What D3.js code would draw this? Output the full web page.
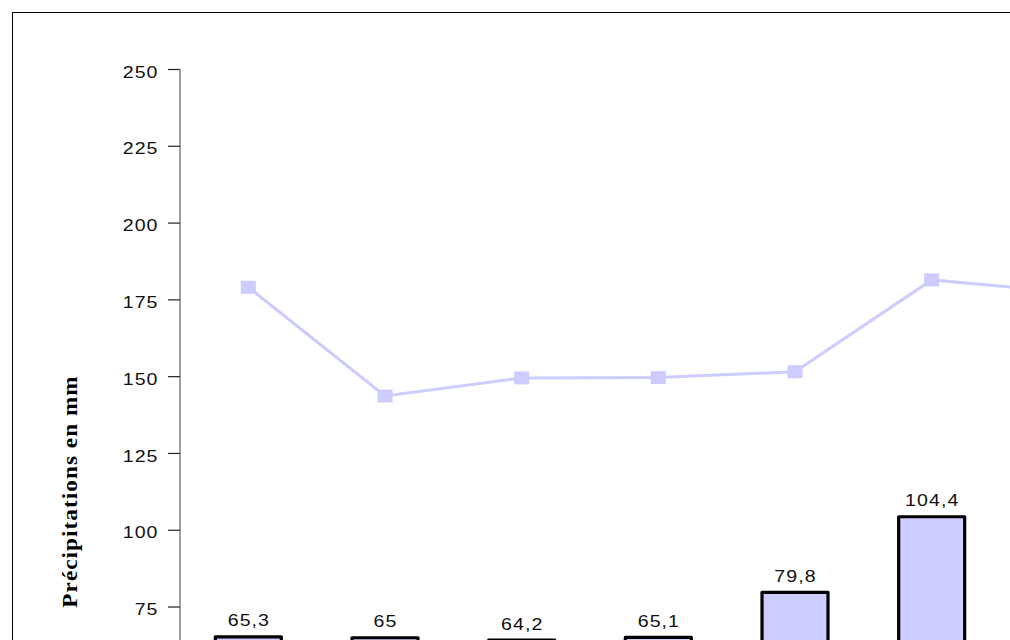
<!DOCTYPE html>
<html>
<head>
<meta charset="utf-8">
<script src="https://cdn.jsdelivr.net/npm/d3@7"></script>
<style>
  html, body { margin: 0; padding: 0; background: #fff; overflow: hidden; }
  svg { display: block; }
</style>
</head>
<body>
<svg id="chart" width="1010" height="640"></svg>
<script>
// Categories (months); the chart continues beyond the visible area
const categories = ["Janv", "Févr", "Mars", "Avr", "Mai", "Juin", "Juil"];
// Bar series: precipitation in mm (7th bar not visible)
const barValues = [65.3, 65, 64.2, 65.1, 79.8, 104.4, null];
// Line series
const lineValues = [179.1, 143.7, 149.6, 149.7, 151.6, 181.5, 177.5];
// Y axis ticks
const yTicks = [75, 100, 125, 150, 175, 200, 225, 250];
const yTitle = "Précipitations en mm";

const svg = d3.select("#chart");

// Outer frame (extends beyond the visible area)
svg.append("rect")
  .attr("x", 12.5).attr("y", 12.5)
  .attr("width", 2000).attr("height", 1200)
  .attr("fill", "none").attr("stroke", "#000").attr("stroke-width", 1);

const step = 136.67;
const x = d3.scaleBand()
  .domain(categories)
  .range([180, 180 + step * categories.length])
  .padding(0);

const y = d3.scaleLinear().domain([0, 250]).range([837.4, 69.5]);

// numbers are drawn with a horizontally widened sans face
const numFont = { family: "Liberation Sans, Arial, sans-serif", size: 16.3, spacing: 0.9, stretch: 1.2 };

// Y axis
const axisX = 180;
const gAxis = svg.append("g");
gAxis.append("line")
  .attr("x1", axisX).attr("x2", axisX)
  .attr("y1", y(250)).attr("y2", 1000)
  .attr("stroke", "#808080").attr("stroke-width", 1.5);

const ticks = gAxis.selectAll("g.tick").data(yTicks).join("g").attr("class", "tick");
ticks.append("line")
  .attr("x1", axisX - 12).attr("x2", axisX)
  .attr("y1", d => y(d)).attr("y2", d => y(d))
  .attr("stroke", "#222").attr("stroke-width", 1.2);
ticks.append("text")
  .attr("transform", d => `translate(${157.5 + numFont.spacing * numFont.stretch},${y(d) + 8.2}) scale(${numFont.stretch},1)`)
  .attr("text-anchor", "end")
  .attr("font-family", numFont.family)
  .attr("font-size", numFont.size)
  .attr("letter-spacing", numFont.spacing)
  .attr("fill", "#111")
  .text(d => d);

// Y title (widened along the text direction)
svg.append("text")
  .attr("transform", `translate(77,491.5) rotate(-90) scale(1.1,1)`)
  .attr("text-anchor", "middle")
  .attr("font-family", "Liberation Serif, Times New Roman, serif")
  .attr("font-weight", "bold")
  .attr("font-size", 21)
  .attr("letter-spacing", 1.0)
  .attr("fill", "#000")
  .text(yTitle);

// Bars
const barW = 66;
const barData = categories.map((c, i) => ({ c, v: barValues[i] })).filter(d => d.v != null);
svg.append("g").selectAll("rect").data(barData).join("rect")
  .attr("x", d => x(d.c) + x.bandwidth() / 2 - barW / 2)
  .attr("y", d => y(d.v))
  .attr("width", barW)
  .attr("height", d => y(0) - y(d.v))
  .attr("fill", "#ccccff")
  .attr("stroke", "#000")
  .attr("stroke-width", 3.2)
  .attr("stroke-linejoin", "round");

// Bar labels
svg.append("g").selectAll("text").data(barData).join("text")
  .attr("transform", d => `translate(${x(d.c) + x.bandwidth() / 2 + numFont.spacing * numFont.stretch / 2},${y(d.v) - 10.5}) scale(${numFont.stretch},1)`)
  .attr("text-anchor", "middle")
  .attr("font-family", numFont.family)
  .attr("font-size", numFont.size)
  .attr("letter-spacing", numFont.spacing)
  .attr("fill", "#111")
  .text(d => String(d.v).replace(".", ","));

// Line series
const lineData = categories.map((c, i) => ({ c, v: lineValues[i] }));
const line = d3.line()
  .x(d => x(d.c) + x.bandwidth() / 2)
  .y(d => y(d.v));
svg.append("path")
  .datum(lineData)
  .attr("d", line)
  .attr("fill", "none")
  .attr("stroke", "#ccccff")
  .attr("stroke-width", 3);

svg.append("g").selectAll("rect").data(lineData).join("rect")
  .attr("x", d => x(d.c) + x.bandwidth() / 2 - 7.5)
  .attr("y", d => y(d.v) - 6.5)
  .attr("width", 15)
  .attr("height", 13)
  .attr("fill", "#ccccff");
</script>
</body>
</html>
